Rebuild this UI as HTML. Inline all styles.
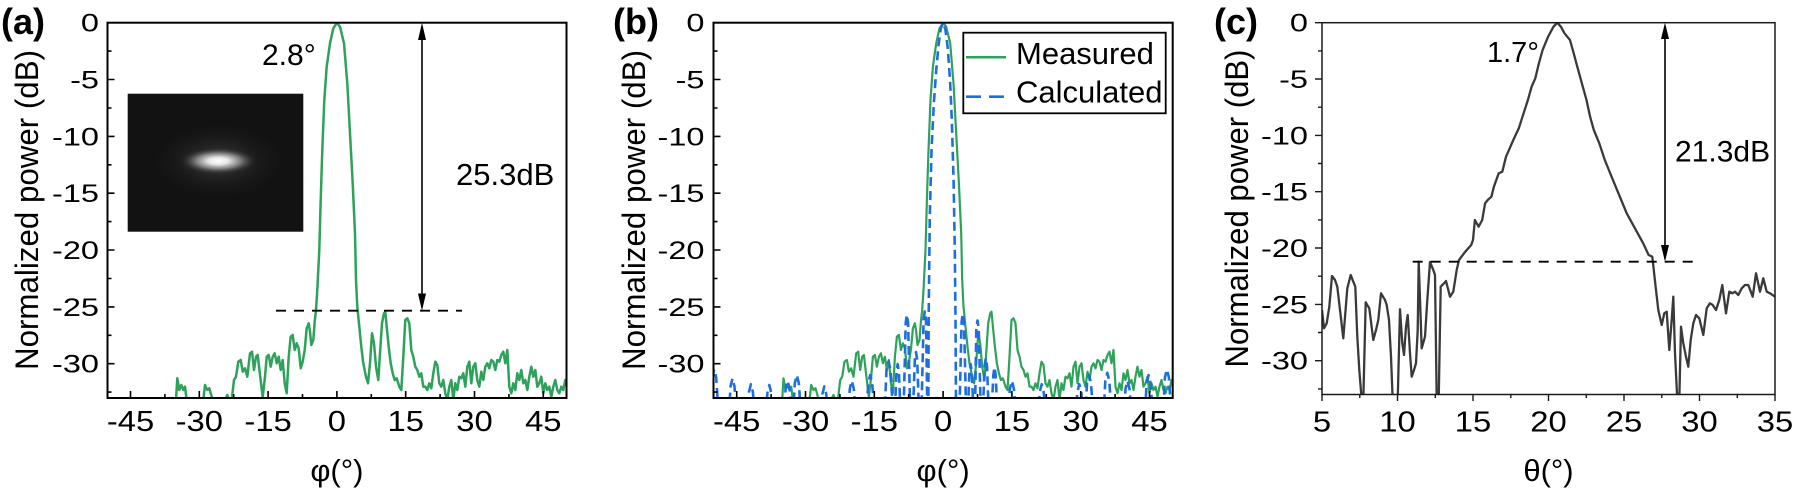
<!DOCTYPE html>
<html><head><meta charset="utf-8"><style>
html,body{margin:0;padding:0;background:#fff;}
svg{display:block;}
text{font-family:"Liberation Sans",Arial,sans-serif;fill:#000;}
</style></head><body>
<svg width="1800" height="491" viewBox="0 0 1800 491" xmlns="http://www.w3.org/2000/svg">
<defs>
<clipPath id="cA"><rect x="107.5" y="22.7" width="459" height="375.3"/></clipPath>
<clipPath id="cB"><rect x="713.5" y="22.7" width="459.2" height="375.3"/></clipPath>
<clipPath id="cC"><rect x="1322" y="22.7" width="453" height="371.8"/></clipPath>
<radialGradient id="blob" cx="50%" cy="50%" r="50%">
<stop offset="0%" stop-color="#ffffff" stop-opacity="1"/>
<stop offset="25%" stop-color="#e8e8e8" stop-opacity="1"/>
<stop offset="55%" stop-color="#909090" stop-opacity="0.85"/>
<stop offset="100%" stop-color="#141414" stop-opacity="0"/>
</radialGradient>
<radialGradient id="halo" cx="50%" cy="50%" r="50%">
<stop offset="0%" stop-color="#606060" stop-opacity="0.6"/>
<stop offset="100%" stop-color="#141414" stop-opacity="0"/>
</radialGradient>
<path id="green" d="M176,400 L177.3,378.3 L179.3,390 L181.3,385 L183.3,390 L185,386.7 L186.7,400 L203.3,400 L205,385 L207.3,390 L209.3,388.3 L211.7,396.7 L212.7,400 L225,400 L227.3,395 L229.3,400 L231.7,400 L234,380 L236,376.7 L238.3,361.7 L240.7,360 L242.7,371.7 L245,368.3 L247.3,376.7 L250,353.3 L252,351.7 L254,370 L256,356.7 L257.7,355 L260,375 L262.7,397 L265,376.7 L266.7,356.7 L268.7,355 L270.7,366.7 L272.7,356.7 L274.7,353.3 L276.7,363.3 L278.7,356.7 L280.7,370 L282.7,360 L284.7,383.3 L286.7,393.3 L288.7,356.7 L290.7,336.7 L292.7,335 L294.7,350 L296.7,343.3 L298.7,348.3 L300.7,368.3 L302.7,361.7 L304.7,350 L306.7,328.3 L308.7,323.3 L310,331.7 L311.3,345 L313.3,340 L314.7,321.7 L316,310 L317.3,290 L319.3,250 L320.7,200 L322.3,150 L324.3,100 L326.7,66.7 L330,43.3 L333.3,28.3 L337,22.7 L340,26.7 L344,43.3 L347.3,83.3 L350,133.3 L352.7,183.3 L355,233.3 L356,280 L357.3,306.7 L359.3,326.7 L361.3,346.7 L363.3,363.3 L366,376.7 L368,383.3 L370,363.3 L372,333.3 L374,343.3 L376,366.7 L378.3,380 L380,353.3 L382,323.3 L384,313.3 L385.3,311.7 L386.7,326.7 L388.7,346.7 L390.7,363.3 L392.7,373.3 L394.7,380 L396.7,378.3 L399.3,386.7 L401.3,390 L403.3,356.7 L405.3,320 L407.3,318.3 L409.3,323.3 L411.3,350 L413.3,356.7 L415.3,366.7 L417.3,370 L419.3,376.7 L421.3,373.3 L423.3,386.7 L425.3,386.7 L427.3,390 L429.3,383.3 L431.3,388.3 L433.3,373.3 L435.3,361.7 L437.3,365 L439.3,383.3 L441.3,386.7 L443.3,380 L445.3,393.3 L447.3,400 L449.3,386.7 L451.3,380 L453.3,400 L455.3,383.3 L457.3,390 L459.3,376.7 L461.3,378.3 L463.3,373.3 L465.3,386.7 L467.3,366.7 L469.3,361.7 L471.3,383.3 L473.3,366.7 L475.3,363.3 L477.3,380 L479.3,386.7 L481.3,371.7 L483.3,380 L485.3,366.7 L487.3,363.3 L489.3,368.3 L491.3,360 L493.3,361.7 L495.3,370 L497.3,360 L499.3,361.7 L501.3,355 L503.3,351.7 L505.3,363.3 L507.3,350 L509.3,386.7 L511.3,393.3 L513.3,383.3 L515.3,390 L517.3,373.3 L519.3,380 L521.3,370 L523.3,383.3 L525.3,380 L527.3,390 L529.3,376.7 L531.3,366.7 L533.3,376.7 L535.3,370 L537.3,386.7 L539.3,383.3 L541.3,376.7 L543.3,393.3 L545.3,383.3 L547.3,390 L549.3,386.7 L551.3,396.7 L553.3,386.7 L555.3,380 L557.3,390 L559.3,393.3 L561.3,386.7 L563.3,390 L565.3,380 L566.7,385 L568,383"/>
</defs>
<rect width="1800" height="491" fill="#fff"/>

<!-- ================= PANEL A ================= -->
<rect x="127.7" y="93.7" width="175.6" height="138" fill="#121212"/>
<ellipse cx="218.3" cy="161" rx="70" ry="40" fill="url(#halo)"/>
<ellipse cx="218.3" cy="161" rx="40" ry="14" fill="url(#blob)"/>

<g clip-path="url(#cA)">
<use href="#green" fill="none" stroke="#2ea25a" stroke-width="2.5" stroke-linejoin="round"/>
</g>
<line x1="276" y1="310.7" x2="462" y2="310.7" stroke="#000" stroke-width="1.8" stroke-dasharray="10 8"/>
<line x1="422" y1="38" x2="422" y2="295" stroke="#000" stroke-width="1.6"/>
<polygon points="422,22.7 418,40 426,40" fill="#000"/>
<polygon points="422,310.7 418,293.5 426,293.5" fill="#000"/>

<rect x="107.5" y="22.7" width="459" height="375.3" fill="none" stroke="#000" stroke-width="2"/>
<g stroke="#000" stroke-width="1.6">
<path d="M107.5,79.5h7M107.5,136.4h7M107.5,193.2h7M107.5,250h7M107.5,306.9h7M107.5,363.7h7"/>
<path d="M107.5,51.1h4M107.5,108h4M107.5,164.8h4M107.5,221.6h4M107.5,278.5h4M107.5,335.3h4M107.5,392.1h4"/>
<path d="M130.5,398v-7M199.3,398v-7M268.1,398v-7M336.9,398v-7M405.7,398v-7M474.5,398v-7M543.3,398v-7"/>
<path d="M164.9,398v-4M233.7,398v-4M302.5,398v-4M371.3,398v-4M440.1,398v-4M508.9,398v-4"/>
</g>
<g font-size="25" text-anchor="end">
<text transform="translate(99,31.6) scale(1.3,1)">0</text>
<text transform="translate(99,88.4) scale(1.3,1)">-5</text>
<text transform="translate(99,145.3) scale(1.3,1)">-10</text>
<text transform="translate(99,202.1) scale(1.3,1)">-15</text>
<text transform="translate(99,258.9) scale(1.3,1)">-20</text>
<text transform="translate(99,315.8) scale(1.3,1)">-25</text>
<text transform="translate(99,372.6) scale(1.3,1)">-30</text>
</g>
<g font-size="28.5" text-anchor="middle">
<text transform="translate(130.5,431) scale(1.15,1)">-45</text>
<text transform="translate(199.3,431) scale(1.15,1)">-30</text>
<text transform="translate(268.1,431) scale(1.15,1)">-15</text>
<text transform="translate(336.9,431) scale(1.15,1)">0</text>
<text transform="translate(405.7,431) scale(1.15,1)">15</text>
<text transform="translate(474.5,431) scale(1.15,1)">30</text>
<text transform="translate(543.3,431) scale(1.15,1)">45</text>
</g>
<text transform="translate(38,210) rotate(-90)" text-anchor="middle" font-size="32" textLength="320" lengthAdjust="spacingAndGlyphs">Normalized power (dB)</text>
<text x="336.9" y="481" text-anchor="middle" font-size="31">φ(°)</text>
<text x="1" y="34" font-size="36" font-weight="bold">(a)</text>
<text x="262" y="65" font-size="30">2.8°</text>
<text x="456" y="185" font-size="31">25.3dB</text>

<!-- ================= PANEL B ================= -->
<g clip-path="url(#cB)">
<use href="#green" transform="translate(606.2,0)" fill="none" stroke="#2ea25a" stroke-width="2.2" stroke-linejoin="round"/>
<path fill="none" stroke="#1f6ee0" stroke-width="2.6" stroke-dasharray="9 5" stroke-linejoin="round" d="M700,440 L708.2,440 L712.2,377.4 L714.2,369.4 L716.2,377.4 L720.2,440 L727.5,440 L730.5,386.5 L732.5,378.5 L734.5,386.5 L738.5,440 L745.9,440 L748.9,392.2 L750.9,384.2 L752.9,392.2 L756.9,440 L764.4,440 L767.4,393 L769.3,385 L771.3,393 L775.3,440 L782.6,440 L785.6,388.8 L787.6,380.8 L789.6,388.8 L793.6,440 L791.8,440 L794.8,383.1 L796.8,375.1 L798.8,383.1 L802.8,440 L819.3,440 L822.3,394.4 L824.3,386.4 L826.3,394.4 L830.3,440 L846.8,440 L849.8,388.8 L851.8,380.8 L853.8,388.8 L857.8,440 L865.2,440 L868.2,383.1 L870.2,375.1 L872.2,383.1 L876.2,440 L883.5,440 L886.5,369.4 L888.5,361.4 L890.5,369.4 L894.5,440 L893.7,440 L896.5,372 L897.7,364 L898.9,372 L901.7,440 L902.9,440 L905.7,322.8 L906.9,314.8 L908.1,322.8 L910.9,440 L912,440 L914.8,360 L916,352 L917.2,360 L920,440 L920.8,440 L923.6,319.4 L924.8,311.4 L926,319.4 L927.8,440 L928.2,440 L928.7,312.6 L929.8,215.9 L931.6,147.7 L933.9,102.3 L936.2,70.4 L938.5,45.4 L940.8,28.4 L943.1,22.7 L945.4,29.5 L947.7,47.7 L950,79.5 L951.8,119.3 L953.6,181.8 L954.8,250 L955.5,318.2 L956.2,440 L958.8,440 L961.6,321.7 L962.8,313.7 L964,321.7 L966.8,440 L969.4,372 L970.6,364 L971.8,372 L974.6,440 L976.3,328.5 L977.5,320.5 L978.7,328.5 L981.5,440 L981.8,440 L984.6,366 L985.8,358 L987,366 L989.8,440 L990.5,440 L993.3,375.1 L994.5,367.1 L995.7,375.1 L998.5,440 L1006.9,440 L1009.9,388.8 L1011.9,380.8 L1013.9,388.8 L1017.9,440 L1036.7,440 L1039.7,392.2 L1041.7,384.2 L1043.7,392.2 L1047.7,440 L1074.3,440 L1077.3,392.2 L1079.3,384.2 L1081.3,392.2 L1085.3,440 L1084,440 L1087,383.1 L1089,375.1 L1091,383.1 L1095,440 L1102.3,440 L1105.3,380.8 L1107.3,372.8 L1109.3,380.8 L1113.3,440 L1122.5,440 L1125.5,388.8 L1127.5,380.8 L1129.5,388.8 L1133.5,440 L1143.6,440 L1146.6,383.1 L1148.6,375.1 L1150.6,383.1 L1154.6,440 L1161.9,440 L1164.9,377.4 L1166.9,369.4 L1168.9,377.4 L1172.9,440 L1190,440"/>
</g>
<rect x="713.5" y="22.7" width="459.2" height="375.3" fill="none" stroke="#000" stroke-width="2"/>
<g stroke="#000" stroke-width="1.6">
<path d="M713.5,79.5h7M713.5,136.4h7M713.5,193.2h7M713.5,250h7M713.5,306.9h7M713.5,363.7h7"/>
<path d="M713.5,51.1h4M713.5,108h4M713.5,164.8h4M713.5,221.6h4M713.5,278.5h4M713.5,335.3h4M713.5,392.1h4"/>
<path d="M736.7,398v-7M805.5,398v-7M874.3,398v-7M943.1,398v-7M1011.9,398v-7M1080.7,398v-7M1149.5,398v-7"/>
<path d="M771.1,398v-4M839.9,398v-4M908.7,398v-4M977.5,398v-4M1046.3,398v-4M1115.1,398v-4"/>
</g>
<!-- legend -->
<rect x="963.3" y="32.7" width="202.4" height="80.6" fill="#fff" stroke="#000" stroke-width="1.8"/>
<line x1="966" y1="57.3" x2="1006" y2="57.3" stroke="#2ea25a" stroke-width="2.5"/>
<line x1="966" y1="96.7" x2="1006" y2="96.7" stroke="#1f6ee0" stroke-width="2.6" stroke-dasharray="15 8"/>
<text x="1016" y="64" font-size="31">Measured</text>
<text x="1016" y="102.7" font-size="31">Calculated</text>

<g font-size="25" text-anchor="end">
<text transform="translate(704.5,31.6) scale(1.3,1)">0</text>
<text transform="translate(704.5,88.4) scale(1.3,1)">-5</text>
<text transform="translate(704.5,145.3) scale(1.3,1)">-10</text>
<text transform="translate(704.5,202.1) scale(1.3,1)">-15</text>
<text transform="translate(704.5,258.9) scale(1.3,1)">-20</text>
<text transform="translate(704.5,315.8) scale(1.3,1)">-25</text>
<text transform="translate(704.5,372.6) scale(1.3,1)">-30</text>
</g>
<g font-size="28.5" text-anchor="middle">
<text transform="translate(736.7,431) scale(1.15,1)">-45</text>
<text transform="translate(805.5,431) scale(1.15,1)">-30</text>
<text transform="translate(874.3,431) scale(1.15,1)">-15</text>
<text transform="translate(943.1,431) scale(1.15,1)">0</text>
<text transform="translate(1011.9,431) scale(1.15,1)">15</text>
<text transform="translate(1080.7,431) scale(1.15,1)">30</text>
<text transform="translate(1149.5,431) scale(1.15,1)">45</text>
</g>
<text transform="translate(645,210) rotate(-90)" text-anchor="middle" font-size="32" textLength="320" lengthAdjust="spacingAndGlyphs">Normalized power (dB)</text>
<text x="943.1" y="481" text-anchor="middle" font-size="31">φ(°)</text>
<text x="613" y="34" font-size="36" font-weight="bold">(b)</text>

<!-- ================= PANEL C ================= -->
<g clip-path="url(#cC)">
<path fill="none" stroke="#3a3a3a" stroke-width="2.3" stroke-linejoin="round" d="M1322,310 L1324,328.3 L1326.7,323.3 L1329.3,306.7 L1332,276 L1335,280 L1337.3,286.7 L1340,310 L1343.3,338.3 L1345.3,313.3 L1347.3,288.3 L1350.7,275 L1353.3,281.7 L1355.3,286.7 L1357.3,336.7 L1359.3,370 L1361.7,400 L1363.3,400 L1365.7,302.3 L1369.3,308.3 L1373.3,340 L1376,330 L1378.3,320 L1381,293.3 L1385,300 L1386.7,305 L1389,320 L1391,356.7 L1392.7,400 L1397.7,400 L1400,309.3 L1402.3,343.3 L1404,355 L1406,326.7 L1407.7,315 L1410,353.3 L1411.7,376.7 L1414,370 L1416,363.3 L1417.7,330 L1418.7,261.7 L1421.7,348.3 L1425,336.7 L1427.3,300 L1430,262 L1433.3,270 L1435,275 L1436.7,400 L1438.7,400 L1440.7,286.7 L1444,283.3 L1446,281 L1450,296.7 L1453.3,291.7 L1456.7,270 L1459,260 L1464,253.3 L1468.3,248.3 L1471.2,245 L1473,240 L1474.9,220 L1478.6,226.7 L1482.2,220 L1485.1,203.3 L1487.7,200 L1491.4,196.7 L1493.9,186.7 L1498.7,173.3 L1502.3,171.7 L1506,156.7 L1509.7,148.3 L1513.3,140 L1518.8,128.3 L1522.5,116.7 L1527.9,100 L1531.6,86.7 L1535.3,78.3 L1538.9,63.3 L1542.6,50 L1548.1,36.7 L1553.5,26.7 L1557.2,22.7 L1560.9,26.7 L1564.5,33.3 L1570,40 L1573.7,53.3 L1577.3,66.7 L1582.8,86.7 L1586.5,100 L1590.1,116.7 L1593.8,130 L1599.3,143.3 L1604.8,160 L1610.2,173.3 L1615.7,186.7 L1621.2,200 L1626.7,213.3 L1632.2,223.3 L1637.7,233.3 L1643.2,243.3 L1648.6,255 L1652.3,256.7 L1654,272 L1656,290 L1658.3,310 L1661.7,325 L1664.3,313.3 L1666.7,311.7 L1669.3,350 L1671.7,320 L1673.3,296.7 L1675,353.3 L1677.3,400 L1679.3,400 L1681,326.7 L1683.3,343.3 L1686,356.7 L1688.3,366.7 L1690.7,340 L1693.3,323.3 L1696,315 L1699.3,318.3 L1703.3,335 L1706.7,308.3 L1710,303.3 L1712.7,305 L1716,310 L1719.3,300 L1722.3,285 L1726,313.3 L1729.3,291.7 L1732.3,293.3 L1735,291.7 L1738.3,295 L1741.7,288.3 L1745,285 L1748.3,285 L1752.7,296.7 L1756,273.3 L1760,291.7 L1763.3,278.3 L1766.7,291.7 L1770,293.3 L1775,296.7"/>
</g>
<line x1="1412.7" y1="261.7" x2="1700" y2="261.7" stroke="#000" stroke-width="1.8" stroke-dasharray="10 8"/>
<line x1="1665" y1="37" x2="1665" y2="247" stroke="#000" stroke-width="1.6"/>
<polygon points="1665,22.7 1661,39 1669,39" fill="#000"/>
<polygon points="1665,261.7 1661,245 1669,245" fill="#000"/>

<rect x="1322" y="22.7" width="453" height="371.8" fill="none" stroke="#1a1a1a" stroke-width="1.5"/>
<g stroke="#1a1a1a" stroke-width="1.4">
<path d="M1322,22.7h-7M1322,79h-7M1322,135.4h-7M1322,191.7h-7M1322,248h-7M1322,304.4h-7M1322,360.7h-7"/>
<path d="M1322,50.9h-4M1322,107.2h-4M1322,163.5h-4M1322,219.9h-4M1322,276.2h-4M1322,332.5h-4M1322,388.9h-4"/>
<path d="M1322,394.5v6.5M1397.5,394.5v6.5M1473,394.5v6.5M1548.5,394.5v6.5M1624,394.5v6.5M1699.5,394.5v6.5M1775,394.5v6.5"/>
<path d="M1359.8,394.5v3.5M1435.3,394.5v3.5M1510.8,394.5v3.5M1586.3,394.5v3.5M1661.8,394.5v3.5M1737.3,394.5v3.5"/>
</g>
<g font-size="25" text-anchor="end">
<text transform="translate(1308,31.6) scale(1.3,1)">0</text>
<text transform="translate(1308,87.9) scale(1.3,1)">-5</text>
<text transform="translate(1308,144.3) scale(1.3,1)">-10</text>
<text transform="translate(1308,200.6) scale(1.3,1)">-15</text>
<text transform="translate(1308,256.9) scale(1.3,1)">-20</text>
<text transform="translate(1308,313.3) scale(1.3,1)">-25</text>
<text transform="translate(1308,369.6) scale(1.3,1)">-30</text>
</g>
<g font-size="28.5" text-anchor="middle">
<text transform="translate(1322,431.5) scale(1.15,1)">5</text>
<text transform="translate(1397.5,431.5) scale(1.15,1)">10</text>
<text transform="translate(1473,431.5) scale(1.15,1)">15</text>
<text transform="translate(1548.5,431.5) scale(1.15,1)">20</text>
<text transform="translate(1624,431.5) scale(1.15,1)">25</text>
<text transform="translate(1699.5,431.5) scale(1.15,1)">30</text>
<text transform="translate(1775,431.5) scale(1.15,1)">35</text>
</g>
<text transform="translate(1248,208.5) rotate(-90)" text-anchor="middle" font-size="32" textLength="318" lengthAdjust="spacingAndGlyphs">Normalized power (dB)</text>
<text x="1548.5" y="481" text-anchor="middle" font-size="31">θ(°)</text>
<text x="1214" y="34" font-size="36" font-weight="bold">(c)</text>
<text x="1487" y="62" font-size="29">1.7°</text>
<text x="1675" y="161.7" font-size="30">21.3dB</text>
</svg>
</body></html>
